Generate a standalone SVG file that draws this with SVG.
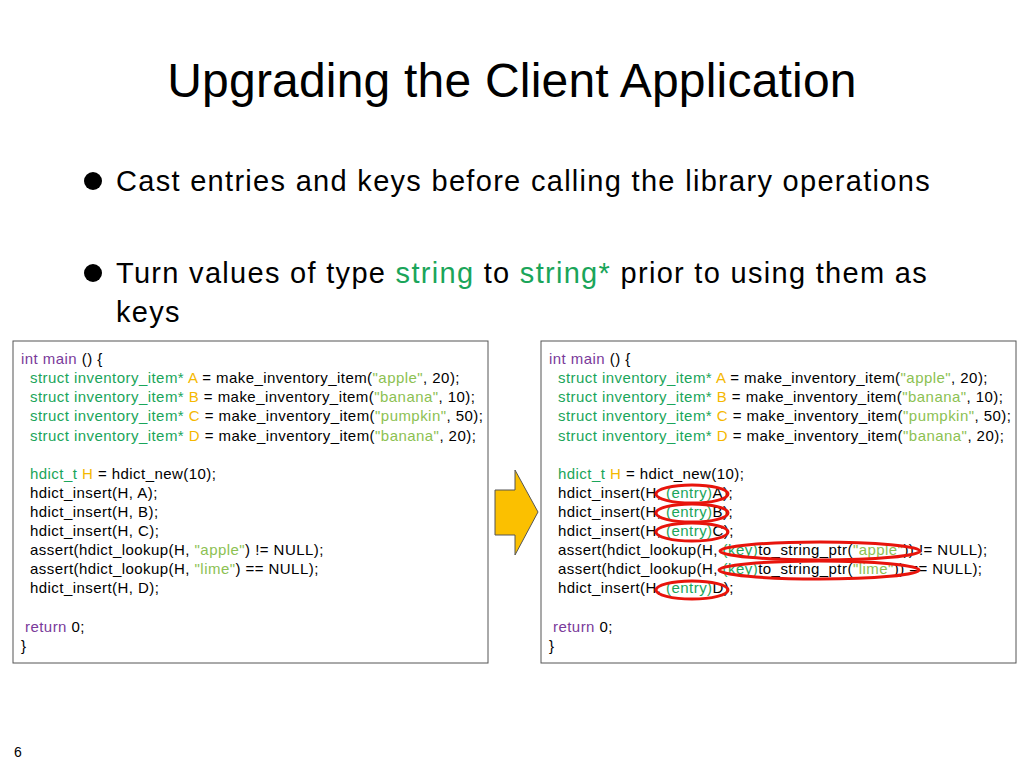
<svg xmlns="http://www.w3.org/2000/svg" width="1024" height="768" viewBox="0 0 1024 768">
<style>
text{font-family:"Liberation Sans",Arial,sans-serif;fill:#000}
.c{font-size:15px;letter-spacing:0.45px}
.t{fill:#1aa55a}.p{fill:#7a3a9a}.o{fill:#f5b800}.s{fill:#8cc152}
.b{font-size:29px;letter-spacing:1.3px}
.box{fill:#fff;stroke:#555;stroke-width:1}
.e{fill:none;stroke:#e8140c;stroke-width:3}
</style>
<rect width="1024" height="768" fill="#fff"/>
<text x="512" y="97" font-size="48" text-anchor="middle" letter-spacing="0.2">Upgrading the Client Application</text>
<circle cx="93" cy="181" r="9"/>
<text class="b" x="116" y="191">Cast entries and keys before calling the library operations</text>
<circle cx="93" cy="273" r="9"/>
<text class="b" x="116" y="283">Turn values of type <tspan class="t">string</tspan> to <tspan class="t">string*</tspan> prior to using them as</text>
<text class="b" x="116" y="322">keys</text>
<g id="left">
<rect class="box" x="13" y="341" width="475" height="322"/>
<g class="c">
<text x="21" y="364"><tspan class="p">int main</tspan> () {</text>
<text x="30" y="383"><tspan class="t">struct inventory_item*</tspan> <tspan class="o">A</tspan> = make_inventory_item(<tspan class="s">"apple"</tspan>, 20);</text>
<text x="30" y="402"><tspan class="t">struct inventory_item*</tspan> <tspan class="o">B</tspan> = make_inventory_item(<tspan class="s">"banana"</tspan>, 10);</text>
<text x="30" y="421"><tspan class="t">struct inventory_item*</tspan> <tspan class="o">C</tspan> = make_inventory_item(<tspan class="s">"pumpkin"</tspan>, 50);</text>
<text x="30" y="441"><tspan class="t">struct inventory_item*</tspan> <tspan class="o">D</tspan> = make_inventory_item(<tspan class="s">"banana"</tspan>, 20);</text>
<text x="30" y="479"><tspan class="t">hdict_t</tspan> <tspan class="o">H</tspan> = hdict_new(10);</text>
<text x="30" y="498">hdict_insert(H, A);</text>
<text x="30" y="517">hdict_insert(H, B);</text>
<text x="30" y="536">hdict_insert(H, C);</text>
<text x="30" y="555">assert(hdict_lookup(H, <tspan class="s">"apple"</tspan>) != NULL);</text>
<text x="30" y="574">assert(hdict_lookup(H, <tspan class="s">"lime"</tspan>) == NULL);</text>
<text x="30" y="593">hdict_insert(H, D);</text>
<text x="25" y="632"><tspan class="p">return</tspan> 0;</text>
<text x="21" y="651">}</text>
</g>
</g>
<g id="arrow">
<polygon points="495,490 515,490 515,470 538,512 515,555 515,535 495,535" fill="#fbc000" stroke="#555" stroke-width="1"/>
</g>
<g id="right">
<rect class="box" x="541" y="341" width="475" height="322"/>
<g class="c">
<text x="549" y="364"><tspan class="p">int main</tspan> () {</text>
<text x="558" y="383"><tspan class="t">struct inventory_item*</tspan> <tspan class="o">A</tspan> = make_inventory_item(<tspan class="s">"apple"</tspan>, 20);</text>
<text x="558" y="402"><tspan class="t">struct inventory_item*</tspan> <tspan class="o">B</tspan> = make_inventory_item(<tspan class="s">"banana"</tspan>, 10);</text>
<text x="558" y="421"><tspan class="t">struct inventory_item*</tspan> <tspan class="o">C</tspan> = make_inventory_item(<tspan class="s">"pumpkin"</tspan>, 50);</text>
<text x="558" y="441"><tspan class="t">struct inventory_item*</tspan> <tspan class="o">D</tspan> = make_inventory_item(<tspan class="s">"banana"</tspan>, 20);</text>
<text x="558" y="479"><tspan class="t">hdict_t</tspan> <tspan class="o">H</tspan> = hdict_new(10);</text>
<text x="558" y="498">hdict_insert(H, <tspan class="t">(entry)</tspan>A);</text>
<text x="558" y="517">hdict_insert(H, <tspan class="t">(entry)</tspan>B);</text>
<text x="558" y="536">hdict_insert(H, <tspan class="t">(entry)</tspan>C);</text>
<text x="558" y="555">assert(hdict_lookup(H, <tspan class="t">(key)</tspan>to_string_ptr(<tspan class="s">"apple"</tspan>)) != NULL);</text>
<text x="558" y="574">assert(hdict_lookup(H, <tspan class="t">(key)</tspan>to_string_ptr(<tspan class="s">"lime"</tspan>)) == NULL);</text>
<text x="558" y="593">hdict_insert(H, <tspan class="t">(entry)</tspan>D);</text>
<text x="553" y="632"><tspan class="p">return</tspan> 0;</text>
<text x="549" y="651">}</text>
</g>
<ellipse class="e" cx="692" cy="494" rx="36" ry="9"/>
<ellipse class="e" cx="692" cy="513" rx="36" ry="9"/>
<ellipse class="e" cx="692" cy="532" rx="36" ry="9"/>
<ellipse class="e" cx="820" cy="551" rx="100" ry="9"/>
<ellipse class="e" cx="819" cy="570" rx="100" ry="9"/>
<ellipse class="e" cx="692" cy="590" rx="36" ry="9"/>
</g>
<text x="14" y="757" font-size="14">6</text>
</svg>
